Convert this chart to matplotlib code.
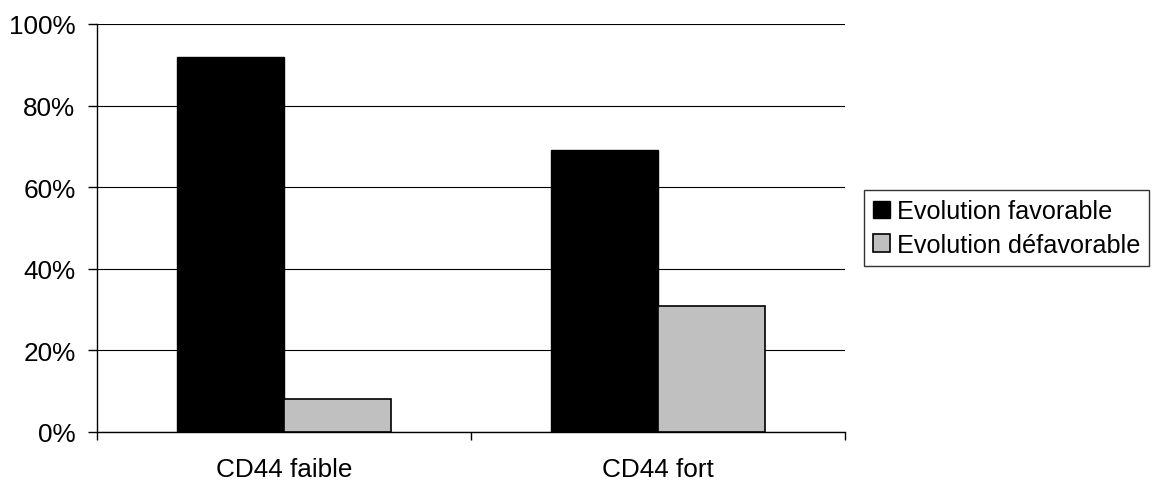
import matplotlib
matplotlib.use("Agg")
from matplotlib import pyplot as plt
from matplotlib.ticker import PercentFormatter
import numpy as np

categories = ["CD44 faible", "CD44 fort"]
favorable = [92, 69]
defavorable = [8, 31]
series_names = ["Evolution favorable", "Evolution défavorable"]

plt.rcParams['font.family'] = ['Liberation Sans', 'DejaVu Sans']

fig = plt.figure(figsize=(11.52, 4.81), dpi=100)
ax = fig.add_axes([97 / 1152, 48 / 481, (845 - 97) / 1152, (433 - 25) / 481])

x = np.arange(len(categories)) + 0.5
w = 0.287
ax.bar(x - w / 2, favorable, w, color="black", edgecolor="black",
       linewidth=1, label=series_names[0], zorder=3)
ax.bar(x + w / 2, defavorable, w, color="#c0c0c0", edgecolor="black",
       linewidth=1.2, label=series_names[1], zorder=3)

ax.set_xlim(0, 2)
ax.set_ylim(0, 100)
ax.set_yticks(np.arange(0, 101, 20))
ax.yaxis.set_major_formatter(PercentFormatter(decimals=0))
ax.yaxis.grid(True, color="black", linewidth=0.8, zorder=0)

ax.set_xticks([0, 1, 2])
ax.set_xticklabels([])
ax.set_xticks(x, minor=True)
ax.set_xticklabels(categories, minor=True)
ax.tick_params(axis="x", which="minor", length=0, pad=18, labelsize=18.8)
ax.tick_params(axis="x", which="major", length=6, width=1, direction="out")
ax.tick_params(axis="y", length=6.5, width=1, labelsize=18.8, pad=9)

for s in ["top", "right"]:
    ax.spines[s].set_visible(False)
for s in ["left", "bottom"]:
    ax.spines[s].set_linewidth(1)
    ax.spines[s].set_color("black")

leg = ax.legend(loc="center left", bbox_to_anchor=(1.025, 0.50), fontsize=18.2,
                frameon=True, fancybox=False, edgecolor="black",
                handlelength=0.68, handleheight=0.68, handletextpad=0.28,
                borderpad=0.35, labelspacing=0.38, borderaxespad=0)
leg.get_frame().set_linewidth(1)

fig.savefig("out.png", dpi=100)
plt.close(fig)
